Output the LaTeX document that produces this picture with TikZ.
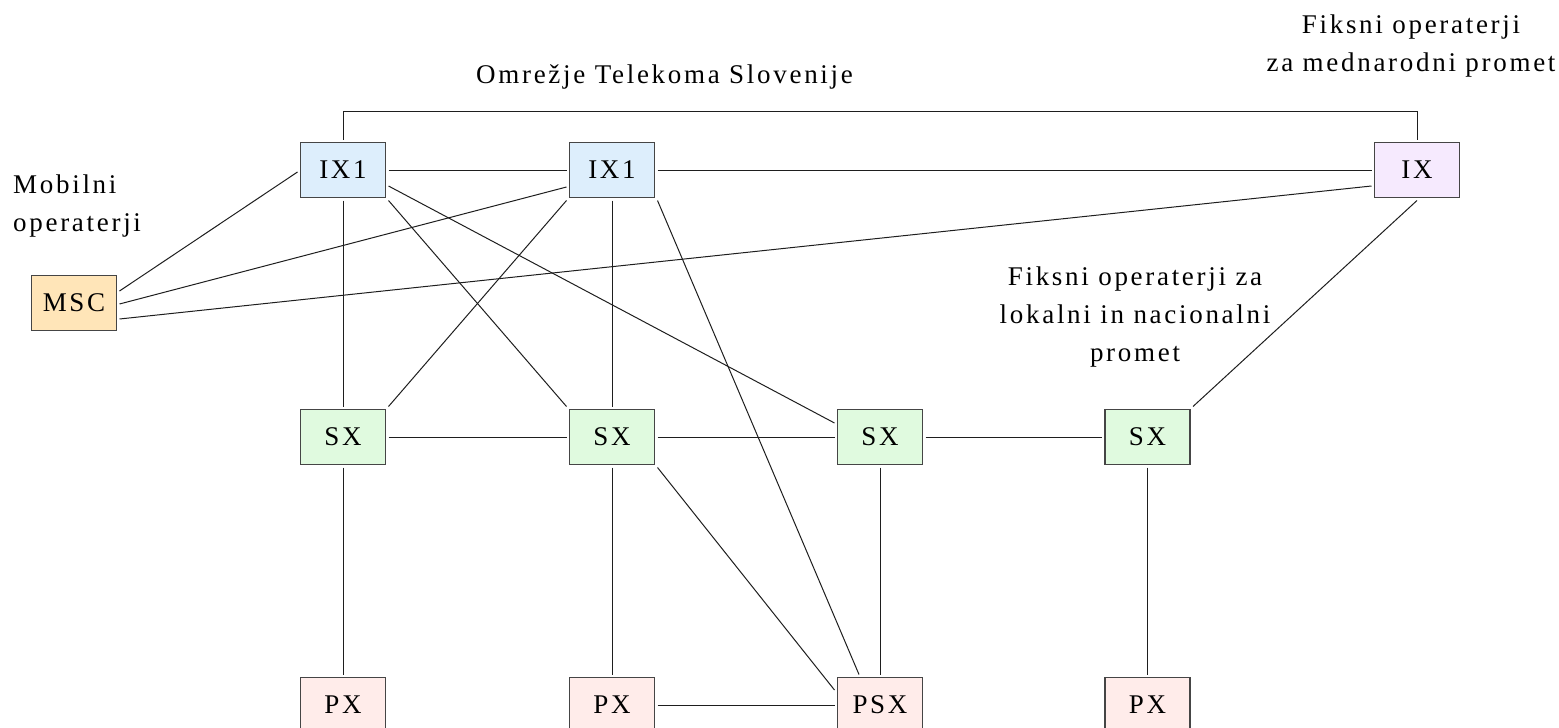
\documentclass[tikz,border=0pt]{standalone}
\usepackage{fontspec}
\setmainfont[LetterSpace=10]{Liberation Serif}
\definecolor{boxline}{HTML}{454545}
\definecolor{wire}{HTML}{1E1E1E}
\definecolor{ixone}{HTML}{DDEEFC}
\definecolor{ixintl}{HTML}{F6EAFE}
\definecolor{mscfill}{HTML}{FFE5B8}
\definecolor{sxfill}{HTML}{E0FADF}
\definecolor{pxfill}{HTML}{FFECEA}
\begin{document}
\begin{tikzpicture}[x=1pt,y=-1pt,
  box/.style={draw=boxline,line width=1.3pt,minimum width=85pt,minimum height=55pt,
    inner sep=0pt,outer sep=3pt,font=\fontsize{27}{32}\selectfont},
  txt/.style={inner sep=0pt,anchor=base west,font=\fontsize{27}{32}\selectfont},
  ctxt/.style={txt,anchor=base},
  link/.style={draw=wire,line width=1pt}]
\useasboundingbox (0,0) rectangle (1559,728);
\clip (0,0) rectangle (1559,728);

% exchanges
\node[box,fill=ixone]  (ixa) at (343,170)    {IX1};
\node[box,fill=ixone]  (ixb) at (612,170)    {IX1};
\node[box,fill=ixintl] (ix)  at (1417,170)   {IX};
\node[box,fill=mscfill](msc) at (74,303)     {MSC};
\node[box,fill=sxfill] (sxa) at (343,437)    {SX};
\node[box,fill=sxfill] (sxb) at (612,437)    {SX};
\node[box,fill=sxfill] (sxc) at (880,437)    {SX};
\node[box,fill=sxfill] (sxd) at (1147.5,437) {SX};
\node[box,fill=pxfill] (pxa) at (343,705)    {PX};
\node[box,fill=pxfill] (pxb) at (612,705)    {PX};
\node[box,fill=pxfill] (psx) at (880,705)    {PSX};
\node[box,fill=pxfill] (pxd) at (1147.5,705) {PX};

% labels
\node[txt]  (net)   at (476,83)   {Omrežje Telekoma Slovenije};
\node[ctxt] (intla) at (1411,33)  {Fiksni operaterji};
\node[ctxt] (intlb) at (1411,71)  {za mednarodni promet};
\node[txt]  (moba)  at (13,193)   {Mobilni};
\node[txt]  (mobb)  at (13,231)   {operaterji};
\node[ctxt] (loca)  at (1135,285) {Fiksni operaterji za};
\node[ctxt] (locb)  at (1135,323) {lokalni in nacionalni};
\node[ctxt] (locc)  at (1135,361) {promet};

% links
\coordinate (bar) at (0,111);
\draw[link] (ixa.north) -- (ixa.north |- bar) -- (ix.north |- bar) -- (ix.north);
\draw[link] (ixa) -- (ixb);
\draw[link] (ixb) -- (ix);
\draw[link] ([yshift=12pt]msc.east) -- ([yshift=-2pt]ixa.west);
\draw[link] ([yshift=-1pt]msc.east) -- ([yshift=-17pt]ixb.west);
\draw[link] ([yshift=-16pt]msc.east) -- ([yshift=-16pt]ix.west);
\draw[link] (ixa) -- (sxa);
\draw[link] (ixa.south east) -- (sxb.north west);
\draw[link] ([yshift=-16pt]ixa.east) -- ([yshift=14pt]sxc.west);
\draw[link] (ixb.south west) -- (sxa.north east);
\draw[link] (ixb) -- (sxb);
\draw[link] (ixb.south east) -- ([xshift=-21pt]psx.north);
\draw[link] (ix.south) -- (sxd.north east);
\draw[link] (sxa) -- (sxb);
\draw[link] (sxb) -- (sxc);
\draw[link] (sxc) -- (sxd);
\draw[link] (sxa) -- (pxa);
\draw[link] (sxb) -- (pxb);
\draw[link] (sxc) -- (psx);
\draw[link] (sxd) -- (pxd);
\draw[link] (sxb.south east) -- ([yshift=15pt]psx.west);
\draw[link] (pxb) -- (psx);
\end{tikzpicture}
\end{document}
